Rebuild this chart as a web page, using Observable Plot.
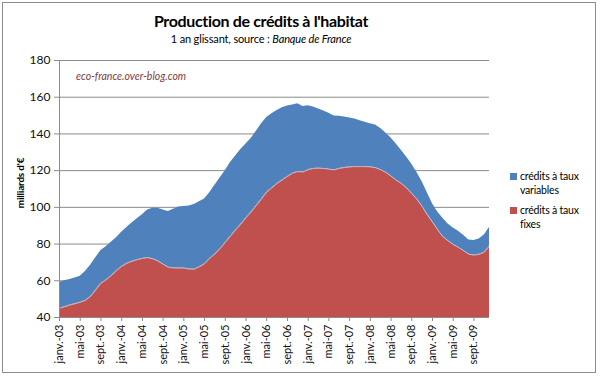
<!DOCTYPE html>
<html>
<head>
<meta charset="utf-8">
<script src="https://cdn.jsdelivr.net/npm/d3@7"></script>
<script src="https://cdn.jsdelivr.net/npm/@observablehq/plot@0.6"></script>
<style>
  html, body { margin: 0; padding: 0; background: #fff; }
  #wrap { position: relative; width: 600px; height: 378px; overflow: hidden; font-family: Lato, "Open Sans", sans-serif; }
  #frame { position: absolute; left: 2px; top: 2px; width: 594px; height: 371px; border: 1px solid #8c8c8c; box-sizing: border-box; }
  #chart { position: absolute; left: 0; top: 0; }
  #title { position: absolute; left: 0; width: 522px; top: 11px; text-align: center; font-weight: bold; font-size: 16px; letter-spacing: -0.35px; color: #000; }
  #subtitle { position: absolute; left: 0; width: 522px; top: 32px; text-align: center; font-size: 11px; letter-spacing: -0.15px; color: #000; }
  #ylab { position: absolute; left: 20px; top: 183px; transform: translate(-50%, -50%) rotate(-90deg); font-weight: bold; font-size: 10px; letter-spacing: -0.2px; white-space: nowrap; color: #000; }
  #watermark { position: absolute; left: 76px; top: 70px; font-style: italic; font-size: 10.5px; color: #7d3c3c; }
  .leg { position: absolute; left: 511px; font-size: 10.5px; letter-spacing: -0.2px; line-height: 14px; color: #000; }
  .sw { position: absolute; left: -1px; top: 4px; width: 7px; height: 7px; }
  .leg span.t { display: block; padding-left: 9px; }
</style>
</head>
<body>
<div id="wrap">
  <div id="frame"></div>
  <div id="chart"></div>
  <div id="title">Production de crédits à l'habitat</div>
  <div id="subtitle">1 an glissant, source : <i>Banque de France</i></div>
  <div id="ylab">milliards d'€</div>
  <div id="watermark">eco-france.over-blog.com</div>
  <div class="leg" style="top:169px"><div class="sw" style="background:#4F81BD"></div><span class="t">crédits à taux<br>variables</span></div>
  <div class="leg" style="top:203px"><div class="sw" style="background:#C0504D"></div><span class="t">crédits à taux<br>fixes</span></div>
</div>
<script>
// Monthly values, janv. 2003 -> déc. 2009 (milliards d'€, 1 an glissant)
const fixes = [
  45, 45.8, 46.8, 47.5, 48.3, 49.3, 51.5, 55, 58.6, 60.5, 62.8, 65.5,
  67.8, 69.5, 70.6, 71.5, 72.2, 72.6, 72, 70.8, 69, 67.4, 67, 66.9,
  66.9, 66.4, 66.3, 67.6, 69.2, 72.2, 74.6, 77.5, 80.9, 84.3, 87.7, 90.8,
  94.3, 97.5, 101, 104.6, 108.3, 110.6, 113, 114.9, 116.8, 118.6, 119.5, 119.3,
  120.5, 121.2, 121.3, 121.2, 120.8, 120.4, 121.2, 121.7, 122, 122.2, 122.2, 122.2,
  122, 121.6, 120.5, 119, 117, 114.8, 113, 110.6, 107.6, 104.4, 100.5, 96,
  92, 87.8, 84, 81.8, 79.8, 78.2, 76.4, 74.5, 74, 74.4, 75.5, 79
];
const variables = [
  14, 14.2, 13.9, 14, 14.2, 15.7, 17, 17.5, 17.9, 18, 18.2, 18,
  18.7, 19.5, 20.9, 22.3, 23.8, 25.9, 27.5, 28.7, 29.5, 30.4, 32, 33.3,
  33.6, 34.4, 35.2, 35.4, 35.3, 35.8, 37.4, 38.5, 39.1, 40.2, 40.3, 40.7,
  40.2, 40, 40.5, 40.9, 40.7, 40.4, 39.8, 39.3, 38.4, 37.2, 36.9, 35.7,
  34.8, 33.5, 32.3, 31.3, 30.4, 29.4, 28.4, 27.5, 26.7, 26, 25, 24.1,
  23.6, 23.2, 22.5, 21.5, 20.8, 19.7, 18, 16.9, 15.9, 14.6, 13.5, 12,
  10, 9.7, 10, 9.2, 9, 8.8, 8.4, 7.7, 8, 8.4, 9.5, 10
];
const tickLabels = [
  "janv.-03", "mai-03", "sept.-03", "janv.-04", "mai-04", "sept.-04",
  "janv.-05", "mai-05", "sept.-05", "janv.-06", "mai-06", "sept.-06",
  "janv.-07", "mai-07", "sept.-07", "janv.-08", "mai-08", "sept.-08",
  "janv.-09", "mai-09", "sept.-09"
];
const yTicks = [40, 60, 80, 100, 120, 140, 160, 180];
const seriesNames = ["crédits à taux fixes", "crédits à taux variables"];
const seriesColors = ["#C0504D", "#4F81BD"];

const rows = [
  ...fixes.map((v, i) => ({ i, s: seriesNames[0], v })),
  ...variables.map((v, i) => ({ i, s: seriesNames[1], v }))
];
const tickIdx = tickLabels.map((_, k) => k * 4);

const chart = Plot.plot({
  width: 600,
  height: 378,
  marginLeft: 59,
  marginRight: 111,
  marginTop: 60,
  marginBottom: 61,
  style: { fontFamily: "Lato, 'Open Sans', sans-serif", fontSize: "11px", color: "#111", background: "transparent" },
  x: { domain: [0, fixes.length - 1] },
  y: { domain: [40, 180] },
  color: { domain: seriesNames, range: seriesColors },
  marks: [
    Plot.gridY(yTicks, { stroke: "#8a8a8a", strokeOpacity: 1 }),
    Plot.areaY(rows, Plot.stackY({ x: "i", y: "v", fill: "s", order: seriesNames, clip: true })),
    Plot.lineY(fixes.map((v, i) => ({ i, v })), { x: "i", y: "v", stroke: "#c9d3e6", strokeWidth: 0.8, clip: true }),
    Plot.ruleX([0], { y1: 40, y2: 180, stroke: "#8a8a8a" }),
    Plot.ruleY([40], { stroke: "#8a8a8a" }),
    Plot.axisY(yTicks, { tickSize: 5, tickPadding: 4, stroke: "#8a8a8a", fontSize: 12, fill: "#111", label: null }),
    Plot.axisX(tickIdx, { tickSize: 4, tickPadding: 3, tickRotate: -90, stroke: "#8a8a8a", fontSize: 11, fill: "#111",
      tickFormat: (d) => tickLabels[d / 4], label: null })
  ]
});
document.getElementById("chart").appendChild(chart);
</script>
</body>
</html>
